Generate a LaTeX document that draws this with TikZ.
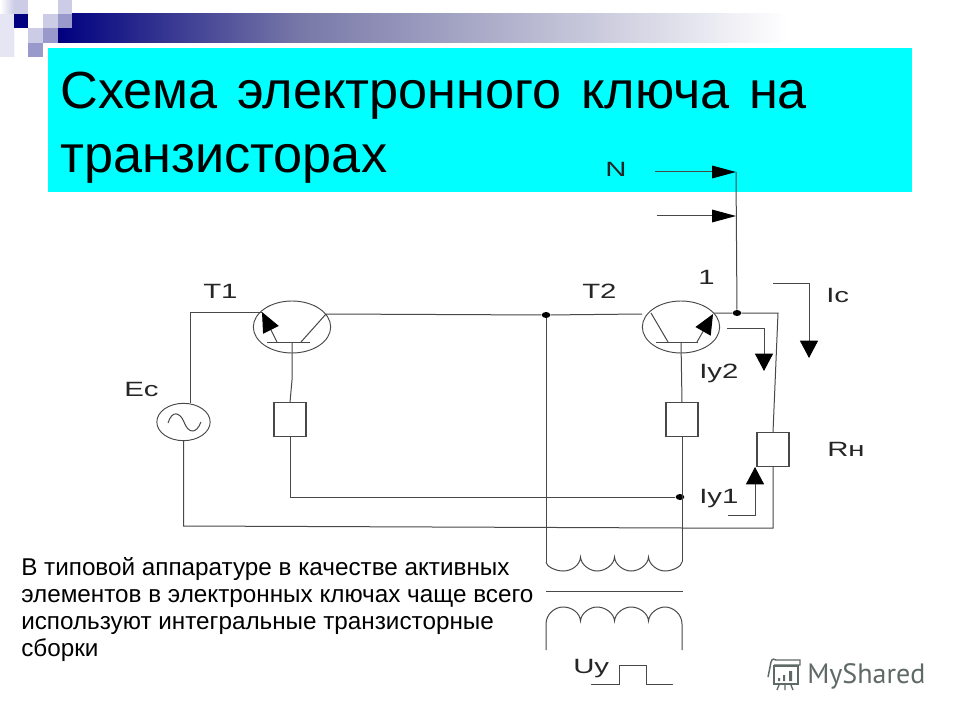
\documentclass[tikz,border=0pt]{standalone}
\usepackage{fontspec}
\setmainfont{Liberation Sans}
\newfontfamily\wmfont{PT Sans}
\usetikzlibrary{arrows.meta,shapes.geometric}
\newcommand{\widelab}[1]{\scalebox{1.42}[1]{#1}}
\newcommand{\widespaces}{\spaceskip 0.375em\relax}
\definecolor{navyd}{HTML}{000080}
\definecolor{navym}{HTML}{7878A8}
\definecolor{lavl}{HTML}{CCCCE6}
\definecolor{lavm}{HTML}{9999CC}
\definecolor{cyanbg}{HTML}{00FFFF}
\definecolor{wire}{HTML}{484848}
\definecolor{wm}{HTML}{5F6A66}
\tikzset{
 wirestyle/.style={draw=wire,line width=0.75pt},
 bigarrow/.style={wirestyle,-{Triangle[length=18pt,width=9.5pt,black]}},
 smallarrow/.style={wirestyle,-{Triangle[length=13pt,width=13.5pt,black]}},
 emitarrow/.style={wirestyle,-{Triangle[length=15pt,width=13pt,black]}},
 cmpbox/.style={draw=wire,line width=0.8pt,fill=white,minimum width=24pt,minimum height=25pt,inner sep=0pt},
 trans/.style={draw=wire,line width=0.7pt,ellipse,minimum width=58pt,minimum height=39pt,inner sep=0pt},
 dotnode/.style={ellipse,fill=black,minimum width=6.5pt,minimum height=4.5pt,inner sep=0pt},
 lab/.style={anchor=base west,inner sep=0pt,font=\fontsize{15.5pt}{18pt}\selectfont,text=black!85},
 titletext/.style={anchor=base west,inner sep=0pt,font=\fontsize{39.2pt}{44pt}\selectfont,text=black},
 bodytext/.style={anchor=base west,inner sep=0pt,font=\fontsize{18.2pt}{20pt}\selectfont,text=black},
}
\begin{document}
\begin{tikzpicture}[x=0.75pt,y=-0.75pt]
\useasboundingbox (0,0) rectangle (960,720);
\fill[white] (0,0) rectangle (960,720);
% decoration
\shade[left color=navyd,right color=navym] (58,14) rectangle (300,43);
\shade[left color=navym,right color=white] (300,14) rectangle (787,43);
\shade[left color=white,right color=lavl] (0,0) rectangle (14,57);
\fill[lavl] (14,0) rectangle (28,14);
\fill[lavl!50] (0,14) rectangle (14,57);
\fill[navyd] (14,14) rectangle (28,28);
\fill[lavl] (43,14) rectangle (58,28);
\fill[lavl] (58,0) rectangle (72,14);
\fill[lavm] (58,14) rectangle (72,28);
\fill[lavl] (28,28) rectangle (43,43);
\fill[lavm] (43,28) rectangle (58,43);
\fill[lavm] (28,43) rectangle (43,57);
% title band
\fill[cyanbg] (48,48) rectangle (912,192);
\node[titletext] (title1) at (60,109) {\widespaces Схема электронного ключа на};
\node[titletext] (title2) at (60,173) {транзисторах};
% components
\node[trans] (t1) at (292,327) {};
\node[trans] (t2) at (681,327) {};
\node[trans,minimum width=40pt,minimum height=28pt] (src) at (183.5,422) {};
\node[cmpbox] (b1) at (290,419.5) {};
\node[cmpbox] (b2) at (682,419.5) {};
\node[cmpbox] (rn) at (773,449.5) {};
\node[dotnode] (d1) at (546,315) {};
\node[dotnode] (d2) at (680,497) {};
\node[dotnode] (d3) at (737,313) {};
\coordinate (c1) at (190,312);
\coordinate (c2) at (778,313);
% T1
\draw[wirestyle] (c1) -- (262,312);
\draw[wirestyle] (c1) -- (190,403);
\draw[wirestyle] (267,342) -- (310,342);
\draw[wirestyle] (301,342) -- (326,314);
\draw[emitarrow] (277,342) -- (262,312);
\draw[wirestyle] (292,342) -- (292,380) -- (b1.north);
% T2
\draw[wirestyle] (326,314) -- (d1) -- (642,314);
\draw[wirestyle] (656,342) -- (698,342);
\draw[wirestyle] (651,313) -- (668,342);
\draw[emitarrow] (697,342) -- (713,314);
\draw[wirestyle] (681,342) -- (b2.north);
\draw[wirestyle] (714,313) -- (d3) -- (c2) -- (rn.north);
% source
\draw[wirestyle] (168,423) .. controls (172,410) and (180,412) .. (184,422) .. controls (188,433) and (196,435) .. (201,422);
\draw[wirestyle] (src.south) -- (183.5,526) -- (682,528) -- (773,528) -- (rn.south);
% lower wires
\draw[wirestyle] (b1.south) -- (290,497) -- (d2);
\draw[wirestyle] (b2.south) -- (682,562);
\draw[wirestyle] (d1) -- (546,562);
% N wires
\coordinate (n1) at (655,172);
\coordinate (n2) at (657,216);
\coordinate (nj1) at (736,172);
\coordinate (nj2) at (736,216);
\draw[bigarrow] (n1) -- (nj1);
\draw[bigarrow] (n2) -- (nj2);
\draw[wirestyle] (nj1) -- (d3);
% current arrows
\draw[smallarrow] (773,284) -- (809,284) -- (809,358);
\draw[smallarrow] (727,328) -- (764,328) -- (764,371);
\draw[smallarrow] (728,515) -- (755,515) -- (755,467);
% transformer
\draw[wirestyle] (546,562)
  .. controls (546,566) and (555,571) .. (563,571)
  .. controls (572,571) and (580,565) .. (580.5,557)
  .. controls (581,565) and (590,571) .. (597,571)
  .. controls (605,571) and (614,565) .. (614.5,557)
  .. controls (615,565) and (624,571) .. (631,571)
  .. controls (639,571) and (648,565) .. (648.5,557)
  .. controls (649,565) and (658,571) .. (665,571)
  .. controls (673,571) and (682,566) .. (682,562);
\draw[wirestyle] (546,591) -- (683,591);
\draw[wirestyle] (546,650) -- (546,624)
  .. controls (546,614) and (555,607) .. (563,607)
  .. controls (572,607) and (580,613) .. (580.5,621)
  .. controls (581,613) and (590,607) .. (597,607)
  .. controls (605,607) and (614,613) .. (614.5,621)
  .. controls (615,613) and (624,607) .. (631,607)
  .. controls (639,607) and (648,613) .. (648.5,621)
  .. controls (649,613) and (658,607) .. (665,607)
  .. controls (673,607) and (682,614) .. (682,624) -- (682,650);
\draw[wirestyle] (591,684) -- (619,684) -- (619,665) -- (646,665) -- (646,684) -- (673,684);
% labels
\node[lab] (lt1) at (203,298) {\widelab{T1}};
\node[lab] (lt2) at (582,298) {\widelab{T2}};
\node[lab] (lec) at (124,396) {\widelab{Ec}};
\node[lab] (ln) at (605,177) {\widelab{N}};
\node[lab] (l1) at (698,285) {\widelab{1}};
\node[lab] (lic) at (826,302) {\widelab{Ic}};
\node[lab] (ly2) at (699,378) {\widelab{Iy2}};
\node[lab] (ly1) at (699,503) {\widelab{Iy1}};
\node[lab] (lrn) at (827,456) {\widelab{Rн}};
\node[lab] (luy) at (573,673) {\widelab{Uy}};
\node[bodytext] (bt1) at (21,575) {В типовой аппаратуре в качестве активных};
\node[bodytext] (bt2) at (21,602) {элементов в электронных ключах чаще всего};
\node[bodytext] (bt3) at (21,629) {используют интегральные транзисторные};
\node[bodytext] (bt4) at (21,656) {сборки};
% watermark
\draw[wm,line width=1.1pt] (774,666) rectangle (798,684);
\draw[wm,line width=1.1pt] (768,677) -- (771,662) .. controls (772,658) and (775,659) .. (776,660) -- (800,660) -- (800,665) -- (774,665);
\fill[wm] (778,678) rectangle (780,681) (783,675) rectangle (785,681) (789,671) rectangle (792,681);
\draw[wm,line width=1pt] (779,685) -- (777,690) (785,685) -- (785,690) (791,685) -- (793,690);
\node[anchor=base west,inner sep=0pt,font=\wmfont\fontsize{21pt}{24pt}\selectfont,text=wm] (wmark) at (807,683) {MyShared};
\end{tikzpicture}
\end{document}
